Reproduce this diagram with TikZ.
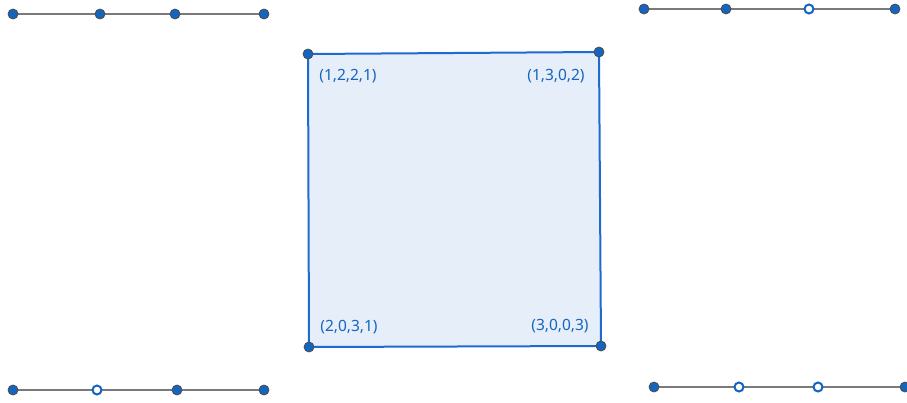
\documentclass[tikz,border=0pt]{standalone}
\usepackage{fontspec}
\setmainfont{Noto Sans}
\definecolor{dotblue}{HTML}{1565C0}
\definecolor{edgeblue}{HTML}{1E6BD0}
\definecolor{fillblue}{HTML}{E6EEF9}
\definecolor{linegray}{HTML}{7A7A7A}
\begin{document}
\begin{tikzpicture}[x=1pt,y=-1pt,
  dot/.style={circle,fill=dotblue,draw=black!70,line width=0.8pt,minimum size=10pt,inner sep=0pt},
  odot/.style={circle,fill=white,draw=dotblue,line width=2pt,minimum size=9pt,inner sep=0pt},
  seg/.style={draw=linegray,line width=2pt},
  lbl/.style={text=dotblue,font=\fontsize{15.5}{18}\selectfont,inner sep=0pt}]
\useasboundingbox (0,0) rectangle (907,402);
% square
\coordinate (A) at (308,54);
\coordinate (B) at (599,52);
\coordinate (C) at (601,346);
\coordinate (D) at (309,347);
\draw[fill=fillblue,draw=edgeblue,line width=2pt] (A) -- (B) -- (C) -- (D) -- cycle;
\node[dot] (nA) at (A) {};
\node[dot] (nB) at (B) {};
\node[dot] (nC) at (C) {};
\node[dot] (nD) at (D) {};
\node[lbl] (lA) at (348,76) {(1,2,2,1)};
\node[lbl] (lB) at (556,76) {(1,3,0,2)};
\node[lbl] (lD) at (349,327) {(2,0,3,1)};
\node[lbl] (lC) at (560,326) {(3,0,0,3)};
% top-left line
\coordinate (a1) at (13,14); \coordinate (a2) at (100,14); \coordinate (a3) at (175,14); \coordinate (a4) at (264,14);
\draw[seg] (a1) -- (a4);
\node[dot] (na1) at (a1) {}; \node[dot] (na2) at (a2) {}; \node[dot] (na3) at (a3) {}; \node[dot] (na4) at (a4) {};
% top-right line
\coordinate (b1) at (644,9); \coordinate (b2) at (726,9); \coordinate (b3) at (809,9); \coordinate (b4) at (895,9);
\draw[seg] (b1) -- (b4);
\node[dot] (nb1) at (b1) {}; \node[dot] (nb2) at (b2) {}; \node[odot] (nb3) at (b3) {}; \node[dot] (nb4) at (b4) {};
% bottom-left line
\coordinate (c1) at (13,390); \coordinate (c2) at (97,390); \coordinate (c3) at (177,390); \coordinate (c4) at (264,390);
\draw[seg] (c1) -- (c4);
\node[dot] (nc1) at (c1) {}; \node[odot] (nc2) at (c2) {}; \node[dot] (nc3) at (c3) {}; \node[dot] (nc4) at (c4) {};
% bottom-right line
\coordinate (d1) at (654,387); \coordinate (d2) at (739,387); \coordinate (d3) at (818,387); \coordinate (d4) at (905,387);
\draw[seg] (d1) -- (d4);
\node[dot] (nd1) at (d1) {}; \node[odot] (nd2) at (d2) {}; \node[odot] (nd3) at (d3) {}; \node[dot] (nd4) at (d4) {};
\end{tikzpicture}
\end{document}
